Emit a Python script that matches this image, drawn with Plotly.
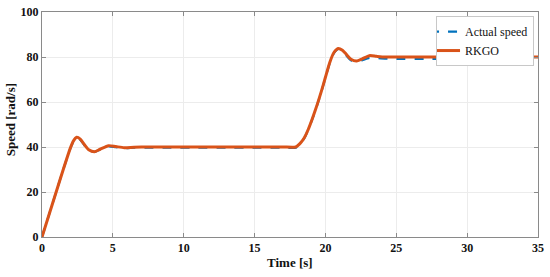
import plotly.graph_objects as go

time_s = [0, 0.5, 1.0, 1.5, 2.0, 2.2, 2.45, 2.7, 3.0, 3.3, 3.7, 4.1, 4.7, 5.2, 5.8, 6.5,
          7.5, 9, 11, 13, 15, 17, 17.9, 18.2, 18.5, 18.8, 19.1, 19.4, 19.7, 20.0, 20.3,
          20.6, 20.9, 21.2, 21.5, 21.8, 22.2, 22.6, 23.1, 23.6, 24.2, 25, 27, 30, 33, 35]

actual_speed = [0, 10, 20, 30, 39.3, 42.2, 44.0, 43.2, 40.7, 38.6, 37.8, 38.8, 40.3, 39.9, 39.5,
                39.7, 39.7, 39.7, 39.7, 39.7, 39.7, 39.7, 39.7, 41.3, 43.8, 47.8, 52.8, 58.3,
                64.3, 70.8, 77.2, 81.7, 83.5, 82.6, 80.5, 78.5, 77.8, 78.6, 79.6, 79.5, 79.3,
                79.2, 79.2, 79.2, 79.2, 79.2]

rkgo_speed = [0, 10, 20, 30, 39.5, 42.5, 44.3, 43.5, 41, 38.8, 37.9, 39, 40.6, 40.2, 39.7,
              39.9, 40, 40, 40, 40, 40, 40, 40, 41.5, 44, 48, 53, 58.5, 64.5, 71, 77.5,
              82, 83.8, 83, 81, 79, 78.2, 79.2, 80.6, 80.3, 80, 80, 80, 80, 80, 80]

x_ticks = [0, 5, 10, 15, 20, 25, 30, 35]
y_ticks = [0, 20, 40, 60, 80, 100]

FONT = "Liberation Serif, Times New Roman, serif"

fig = go.Figure()
fig.add_trace(go.Scatter(
    x=time_s, y=actual_speed, mode="lines", name="Actual speed",
    line=dict(color="#0072BD", width=2.2, dash="dash", shape="spline", smoothing=0.6),
))
fig.add_trace(go.Scatter(
    x=time_s, y=rkgo_speed, mode="lines", name="RKGO",
    line=dict(color="#D95319", width=3, shape="spline", smoothing=0.6),
))

axis_common = dict(
    showline=True, linecolor="#8a8a8a", linewidth=1, mirror="ticks",
    ticks="inside", ticklen=4, tickcolor="#8a8a8a",
    showgrid=True, gridcolor="#ececec", gridwidth=1, zeroline=False,
    tickfont=dict(family=FONT, size=12, color="#111111", weight="bold"),
    automargin=False,
)

fig.update_layout(
    width=550, height=277,
    margin=dict(l=42, r=12, t=12, b=40),
    paper_bgcolor="white", plot_bgcolor="white",
    font=dict(family=FONT, color="#111111"),
    showlegend=True,
    legend=dict(
        x=0.992, y=0.982, xanchor="right", yanchor="top",
        bgcolor="white", bordercolor="#c8c8c8", borderwidth=1,
        font=dict(family=FONT, size=12, color="#111111"),
        tracegroupgap=0, itemwidth=30, indentation=-12,
    ),
    xaxis=dict(range=[0, 35], tickvals=x_ticks, **axis_common),
    yaxis=dict(range=[0, 100], tickvals=y_ticks, **axis_common),
    annotations=[
        dict(text="<b>Time [s]</b>", xref="paper", yref="paper", x=0.5, y=-0.115,
             xanchor="center", yanchor="middle", showarrow=False,
             font=dict(family=FONT, size=13, color="#111111")),
        dict(text="<b>Speed [rad/s]</b>", xref="paper", yref="paper", x=-0.064, y=0.52,
             xanchor="center", yanchor="middle", showarrow=False, textangle=-90,
             font=dict(family=FONT, size=13, color="#111111")),
    ],
)

fig.write_html("out.html", config={"displayModeBar": False},
               post_script="document.body.style.margin='0px';")
